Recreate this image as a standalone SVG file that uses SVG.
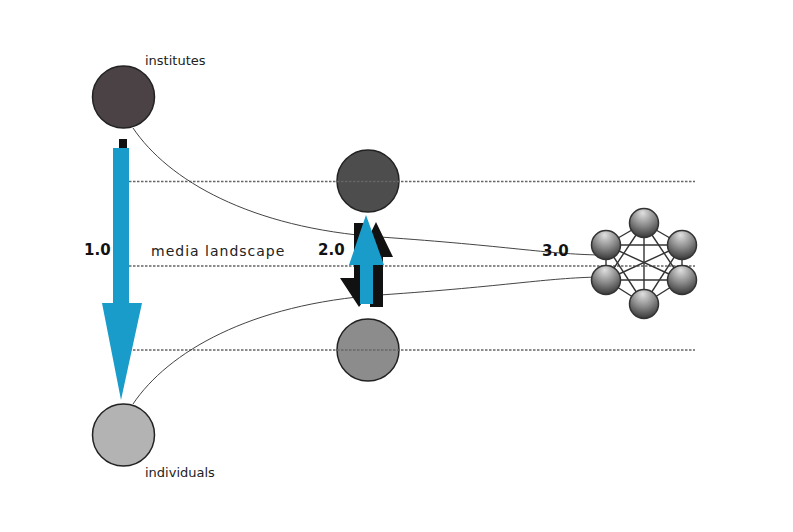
<svg xmlns="http://www.w3.org/2000/svg" width="793" height="532" viewBox="0 0 793 532">
<style>
.lbl{font-family:"DejaVu Sans","Liberation Sans",sans-serif;fill:#222}
.num{font-family:"DejaVu Sans","Liberation Sans",sans-serif;font-weight:bold;font-size:15px;fill:#111}
.circ{stroke:#222;stroke-width:1.5}
.guide{stroke:#666;stroke-width:1.5;stroke-dasharray:2.5 1.5;fill:none}
.curve{stroke:#444;stroke-width:1;fill:none}
.blue{fill:#1a9ccb}
.blk{fill:#111}
.edge{stroke:#333;stroke-width:1.4}
.sph{fill:url(#sg);stroke:#333;stroke-width:1.5}
</style>
<defs>
<radialGradient id="sg" cx="50%" cy="25%" r="80%" fx="45%" fy="15%">
<stop offset="0" stop-color="#e0e0e0"/>
<stop offset="0.5" stop-color="#8a8a8a"/>
<stop offset="1" stop-color="#2e2e2e"/>
</radialGradient>
</defs>
<rect width="793" height="532" fill="#fff"/>

<g id="institutes">
<circle class="circ" cx="123.5" cy="97" r="31" fill="#4a4244"/>
<text class="lbl" x="145" y="65" font-size="13">institutes</text>
</g>
<g id="individuals">
<circle class="circ" cx="123.5" cy="435" r="31" fill="#b3b3b3"/>
<text class="lbl" x="145" y="477" font-size="13">individuals</text>
</g>
<g id="web2-top">
<circle class="circ" cx="368" cy="181" r="31" fill="#4d4d4d"/>
</g>
<g id="web2-bottom">
<circle class="circ" cx="368" cy="350" r="31" fill="#8c8c8c"/>
</g>

<g id="guides">
<line class="guide" x1="129" y1="181.5" x2="695" y2="181.5"/>
<line class="guide" x1="129" y1="266" x2="695" y2="266"/>
<line class="guide" x1="129" y1="350" x2="695" y2="350"/>
</g>

<g id="connectors">
<path class="curve" d="M133,128 C168,180 250,228 380,237 S545,254 600,255"/>
<path class="curve" d="M133,404 C168,352 250,304 380,295 S545,278 600,277"/>
<!-- 1.0 -->
<rect class="blk" x="119" y="139" width="8" height="10"/>
<polygon class="blue" points="113,148 129,148 129,303 142,303 121,400 102,303 113,303"/>
<!-- 2.0 black arrows -->
<polygon class="blk" points="354,223 366,223 366,278 380,278 359,307 340,278 354,278"/>
<polygon class="blk" points="370,307 383,307 383,257 393,257 376,222 359,257 370,257"/>
<polygon class="blue" points="360,304 373,304 373,265 384,265 366,215 349,265 360,265"/>
</g>

<g id="labels">
<text class="num" x="84" y="255">1.0</text>
<text class="lbl" x="151" y="256" font-size="14" letter-spacing="1" fill="#333">media landscape</text>
<text class="num" x="318" y="255">2.0</text>
<text class="num" x="542" y="256">3.0</text>
</g>

<g id="network">
<g>
<line class="edge" x1="644" y1="223" x2="606" y2="245"/>
<line class="edge" x1="644" y1="223" x2="682" y2="245"/>
<line class="edge" x1="644" y1="223" x2="606" y2="280"/>
<line class="edge" x1="644" y1="223" x2="682" y2="280"/>
<line class="edge" x1="644" y1="223" x2="644" y2="304"/>
<line class="edge" x1="606" y1="245" x2="682" y2="245"/>
<line class="edge" x1="606" y1="245" x2="606" y2="280"/>
<line class="edge" x1="606" y1="245" x2="682" y2="280"/>
<line class="edge" x1="606" y1="245" x2="644" y2="304"/>
<line class="edge" x1="682" y1="245" x2="606" y2="280"/>
<line class="edge" x1="682" y1="245" x2="682" y2="280"/>
<line class="edge" x1="682" y1="245" x2="644" y2="304"/>
<line class="edge" x1="606" y1="280" x2="682" y2="280"/>
<line class="edge" x1="606" y1="280" x2="644" y2="304"/>
<line class="edge" x1="682" y1="280" x2="644" y2="304"/>
</g>
<circle class="sph" cx="644" cy="223" r="14.5"/>
<circle class="sph" cx="606" cy="245" r="14.5"/>
<circle class="sph" cx="682" cy="245" r="14.5"/>
<circle class="sph" cx="606" cy="280" r="14.5"/>
<circle class="sph" cx="682" cy="280" r="14.5"/>
<circle class="sph" cx="644" cy="304" r="14.5"/>
</g>
</svg>
